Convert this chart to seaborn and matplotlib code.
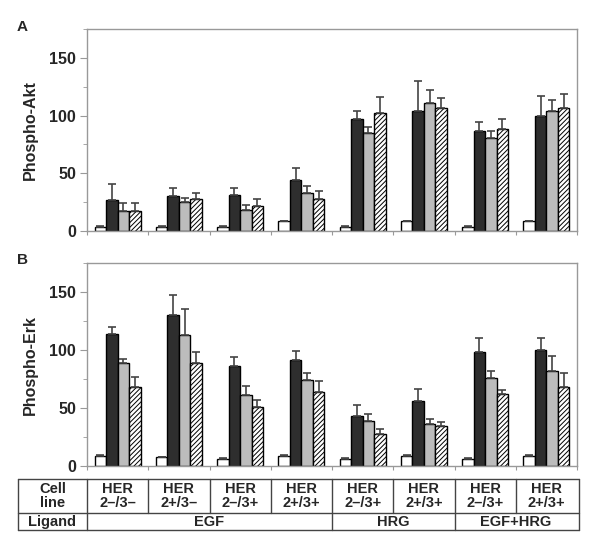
import matplotlib.pyplot as plt
import seaborn as sns
import numpy as np
import pandas as pd

# data
groups = ["EGF 2-/3-", "EGF 2+/3-", "EGF 2-/3+", "EGF 2+/3+",
          "HRG 2-/3+", "HRG 2+/3+", "EGFHRG 2-/3+", "EGFHRG 2+/3+"]
cell_lines = ["HER\n2\u2013/3\u2013", "HER\n2+/3\u2013", "HER\n2\u2013/3+", "HER\n2+/3+",
              "HER\n2\u2013/3+", "HER\n2+/3+", "HER\n2\u2013/3+", "HER\n2+/3+"]
ligands = ["EGF", "HRG", "EGF+HRG"]
ligand_span = [(0, 3), (4, 5), (6, 7)]
conds = ["c0", "c1", "c2", "c3"]

akt_c0 = [3.7, 3.7, 3.7, 8.6, 3.7, 8.6, 3.7, 8.6]
akt_c1 = [26.7, 30, 31.6, 44, 96.8, 104.3, 86.2, 99.7]
akt_c2 = [17, 25, 17.8, 32.5, 85, 111, 81, 104]
akt_c3 = [17.5, 28, 21.8, 27.9, 102.3, 106.6, 88, 106.6]
akt_e0 = [0.5] * 8
akt_e1 = [14.3, 7.6, 6, 10.3, 7.2, 25.7, 8.3, 17]
akt_e2 = [7.7, 4, 4.6, 6.5, 4.7, 11, 5.8, 9.5]
akt_e3 = [7.2, 5, 5.5, 6.9, 13.7, 8.9, 9, 11.8]

erk_c0 = [9, 7.5, 6.4, 9, 6.4, 9, 6.4, 9]
erk_c1 = [114, 129.8, 86.1, 91.6, 43.4, 56, 98.3, 100.3]
erk_c2 = [88.4, 113.3, 61.6, 74.3, 38.4, 36.4, 75.7, 81.5]
erk_c3 = [68.2, 88.4, 50.6, 63.9, 27.5, 34.4, 62.4, 68.2]
erk_e0 = [0.5] * 8
erk_e1 = [5.7, 17.6, 7.9, 7.2, 9.2, 10.8, 12.4, 10.4]
erk_e2 = [4.1, 21.7, 7.2, 5.5, 6.1, 4.4, 6.1, 13]
erk_e3 = [8.1, 9.6, 6, 9.5, 4, 3.8, 3.5, 11.8]

sns.set_style("white")
plt.rcParams['font.family'] = ['Liberation Sans', 'DejaVu Sans']
plt.rcParams['hatch.linewidth'] = 0.7

pal = {"c0": "white", "c1": "#2e2e2e", "c2": "#bcbcbc", "c3": "white"}
gray = "#999999"


def plot_panel(ax, means, errs, ylabel):
    df = pd.DataFrame({
        "line": groups * 4,
        "cond": np.repeat(conds, 8),
        "value": np.concatenate(means),
    })
    sns.barplot(data=df, x="line", y="value", hue="cond", order=groups,
                hue_order=conds, palette=pal, edgecolor="black", linewidth=1,
                width=0.75, errorbar=None, legend=False, saturation=1, ax=ax)
    bars = list(ax.containers)[:4]
    for bar in bars[3]:
        bar.set_hatch("///////")
    for k, cont in enumerate(bars):
        xs = [b.get_x() + b.get_width() / 2 for b in cont]
        hs = [b.get_height() for b in cont]
        ax.errorbar(xs, hs, yerr=[np.zeros(8), errs[k]], fmt="none",
                    ecolor="#444444", elinewidth=1.2, capsize=3, capthick=1.2, zorder=3)
    ax.set_ylim(0, 175)
    ax.set_xlim(-0.5, 7.5)
    ax.set_yticks([0, 50, 100, 150])
    ax.set_yticks([25, 75, 125, 175], minor=True)
    ax.set_xticks(np.arange(-0.5, 8, 1))
    ax.set_xticklabels([])
    ax.set_xlabel("")
    ax.set_ylabel(ylabel, fontsize=11.5, fontweight="bold", labelpad=8)
    for sp in ax.spines.values():
        sp.set_color(gray)
        sp.set_linewidth(1)
    ax.tick_params(axis="y", which="major", length=5, color=gray, labelsize=11.5, pad=3)
    ax.tick_params(axis="y", which="minor", length=3, color=gray)
    ax.tick_params(axis="x", length=3, color=gray)
    ax.tick_params(left=True, bottom=True, which="both")
    for t in ax.get_yticklabels():
        t.set_fontweight("bold")


fig = plt.figure(figsize=(6, 5.54), dpi=100)
ax_a = fig.add_axes([0.145, 0.583, 0.8167, 0.3647])
ax_b = fig.add_axes([0.145, 0.1588, 0.8167, 0.3665])

plot_panel(ax_a, [akt_c0, akt_c1, akt_c2, akt_c3], [akt_e0, akt_e1, akt_e2, akt_e3], "Phospho-Akt")
plot_panel(ax_b, [erk_c0, erk_c1, erk_c2, erk_c3], [erk_e0, erk_e1, erk_e2, erk_e3], "Phospho-Erk")

fig.text(0.028, 0.951, "A", fontsize=11, fontweight="bold", va="center")
fig.text(0.028, 0.531, "B", fontsize=11, fontweight="bold", va="center")

# table under the bars
tab = fig.add_axes([0.145, 0.0433, 0.8167, 0.0921])
tab.set_xlim(-0.5, 7.5)
tab.set_ylim(0, 1)
tab.axis("off")
x0, x1 = -1.627, 7.53
lc = "#444444"
for y in [0, 1 / 3, 1]:
    tab.plot([x0, x1], [y, y], color=lc, lw=1, clip_on=False)
for x in [x0, -0.5, 3.5, 5.5, x1]:
    tab.plot([x, x], [0, 1], color=lc, lw=1, clip_on=False)
for x in [0.5, 1.5, 2.5, 4.5, 6.5]:
    tab.plot([x, x], [1 / 3, 1], color=lc, lw=1, clip_on=False)
tfont = dict(fontsize=10.5, fontweight="bold", ha="center", va="center", linespacing=1.05)
tab.text((x0 - 0.5) / 2, 2 / 3, "Cell\nline", **tfont)
tab.text((x0 - 0.5) / 2, 1 / 6, "Ligand", **tfont)
for i, lab in enumerate(cell_lines):
    tab.text(i, 2 / 3, lab, **tfont)
for lab, (a, b) in zip(ligands, ligand_span):
    tab.text((a + b) / 2, 1 / 6, lab, **tfont)

fig.savefig("out.png", dpi=100)
